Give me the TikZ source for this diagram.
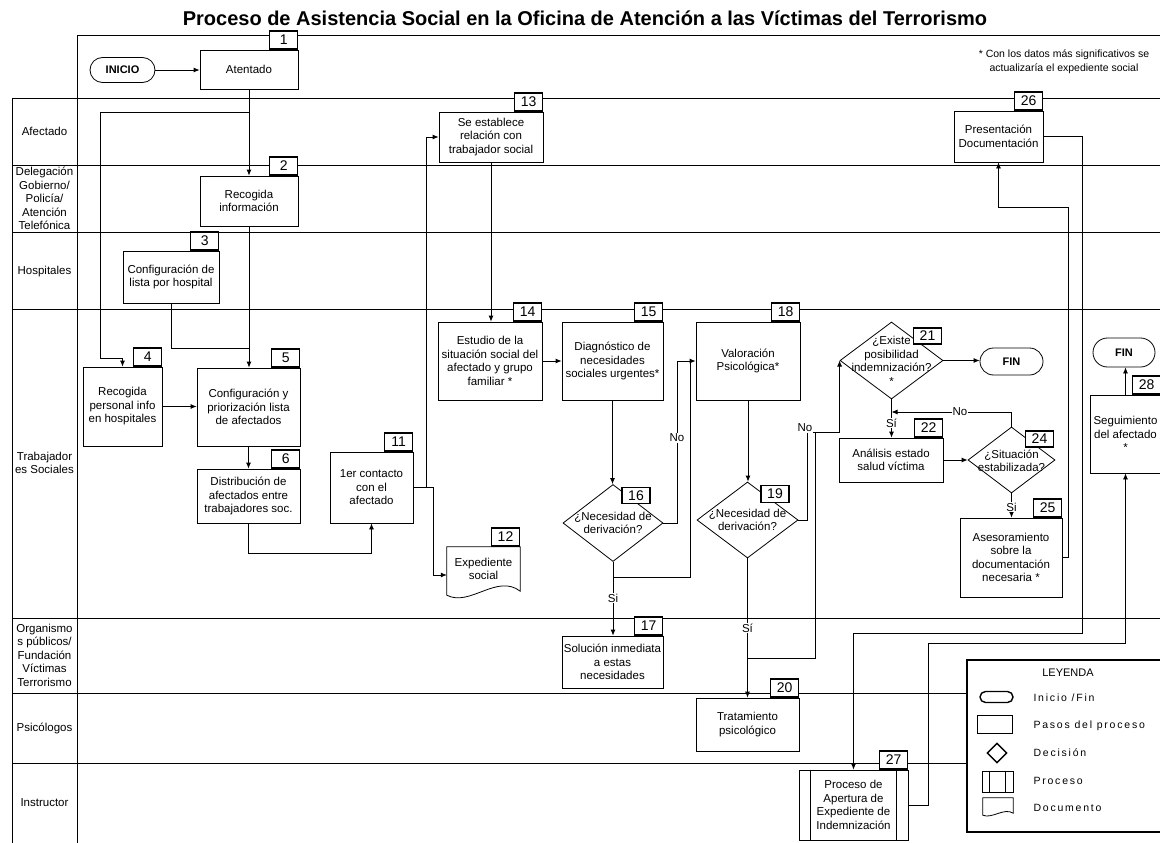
\documentclass[tikz,border=0pt]{standalone}
\usepackage{fontspec}
\setmainfont{Liberation Sans}
\newfontfamily\legfont[LetterSpace=17]{Liberation Sans}
\usetikzlibrary{arrows.meta,shapes.geometric,shapes.misc,calc}
\tikzset{
  txt/.style={font=\fontsize{11.5}{13.5}\selectfont, align=center},
  sz/.style 2 args={minimum width=#1pt, minimum height=#2pt},
  stepbox/.style={txt, draw, fill=white, line width=0.8pt, inner sep=1pt},
  numbox/.style={draw, fill=white, line width=1.4pt, font=\fontsize{14}{14}\selectfont, minimum width=28pt, minimum height=18pt, inner sep=0pt},
  termbox/.style={draw, fill=white, rounded rectangle, line width=0.8pt, font=\bfseries\fontsize{11}{12}\selectfont, inner sep=0pt},
  decbox/.style={draw, fill=white, diamond, line width=0.8pt, inner sep=0pt},
  lbl/.style={txt, fill=white, inner sep=1pt},
  lane/.style={line width=0.8pt},
  conn/.style={line width=0.8pt},
  arr/.style={line width=0.8pt, -{Latex[length=6pt,width=5pt]}},
  legtext/.style={font=\legfont\fontsize{10.5}{12}\selectfont, anchor=west}
}
\begin{document}
\begin{tikzpicture}[x=1pt,y=-1pt]
\useasboundingbox (0,0) rectangle (1160,843);
\fill[white] (0,0) rectangle (1160,843);

% title and note
\node[font=\bfseries\fontsize{20}{22}\selectfont] (title) at (585,18) {Proceso de Asistencia Social en la Oficina de Atención a las Víctimas del Terrorismo};
\node[font=\fontsize{10.5}{14}\selectfont, align=center] (note) at (1064,62) {* Con los datos más significativos se\\actualizaría el expediente social};

% frame and lanes
\draw[lane] (77,35) -- (1160,35);
\draw[lane] (77,35) -- (77,843);
\draw[lane] (12,98) -- (12,843);
\foreach \yy in {98,165,232,309,618,693,763} {\draw[lane] (12,\yy) -- (1160,\yy);}

% lane labels
\node[txt] (l1) at (44.5,131.5) {Afectado};
\node[txt] (l2) at (44.5,198.5) {Delegación\\Gobierno/\\Policía/\\Atención\\Telefónica};
\node[txt] (l3) at (44.5,272) {Hospitales};
\node[txt] (l4) at (44.5,463) {Trabajador\\es Sociales};
\node[txt] (l5) at (44.5,655) {Organismo\\s públicos/\\Fundación\\Víctimas\\Terrorismo};
\node[txt] (l6) at (44.5,728) {Psicólogos};
\node[txt] (l7) at (44.5,803) {Instructor};

% nodes
\node[termbox, sz={65}{25}] (inicio) at (122.5,70) {INICIO};
\node[stepbox, sz={98}{39}] (b1) at (249,69.5) {Atentado};
\node[stepbox, sz={98}{50}] (b2) at (249,201) {Recogida\\información};
\node[stepbox, sz={96}{52}] (b3) at (171,277) {Configuración de\\lista por hospital};
\node[stepbox, sz={79}{79}] (b4) at (122.5,406.5) {Recogida\\personal info\\en hospitales};
\node[stepbox, sz={103}{78}] (b5) at (248.5,407) {Configuración y\\priorización lista\\de afectados};
\node[stepbox, sz={103}{54}] (b6) at (248.5,496) {Distribución de\\afectados entre\\trabajadores soc.};
\node[stepbox, sz={83}{71}] (b11) at (371.5,487.5) {1er contacto\\con el\\afectado};
\node[txt, sz={73}{44}, inner sep=0pt] (b12) at (483.5,569) {};
\draw[fill=white, line width=0.8pt] (b12.north west) -- (b12.north east) -- (b12.south east)
  .. controls ($(b12.south east)+(-23,-18)$) and ($(b12.south west)+(23,16)$) .. ($(b12.south west)+(0,4)$) -- cycle;
\node[txt] (b12t) at (b12) {Expediente\\social};
\node[stepbox, sz={104}{50}] (b13) at (491,137) {Se establece\\relación con\\trabajador social};
\node[stepbox, sz={104}{78}] (b14) at (490,361) {Estudio de la\\situación social del\\afectado y grupo\\familiar *};
\node[stepbox, sz={101}{78}] (b15) at (612.5,361) {Diagnóstico de\\necesidades\\sociales urgentes*};
\node[stepbox, sz={104}{78}] (b18) at (748,361) {Valoración\\Psicológica*};
\node[decbox, sz={100}{77}] (d16) at (613,523) {};
\node[txt] (d16t) at (613,523) {¿Necesidad de\\derivación?};
\node[decbox, sz={101}{76}] (d19) at (747.5,520) {};
\node[txt] (d19t) at (747.5,520) {¿Necesidad de\\derivación?};
\node[stepbox, sz={101}{52}] (b17) at (612.5,662) {Solución inmediata\\a estas\\necesidades};
\node[stepbox, sz={103}{53}] (b20) at (747.5,724.5) {Tratamiento\\psicológico};
\node[decbox, sz={103}{77}] (d21) at (891.5,360.5) {};
\node[txt] (d21t) at (891.5,361) {¿Existe\\posibilidad\\indemnización?\\*};
\node[termbox, sz={63}{27}] (fin1) at (1011.5,361.5) {FIN};
\node[stepbox, sz={104}{44}] (b22) at (891,460) {Análisis estado\\salud víctima};
\node[decbox, sz={87}{66}] (d24) at (1011.5,460) {};
\node[txt] (d24t) at (1011.5,461) {¿Situación\\estabilizada?};
\node[stepbox, sz={102}{79}] (b25) at (1011,557.5) {Asesoramiento\\sobre la\\documentación\\necesaria *};
\node[stepbox, sz={89}{51}] (b26) at (998.5,136.5) {Presentación\\Documentación};
\node[termbox, sz={62}{29}] (fin2) at (1124,352.5) {FIN};
\node[stepbox, sz={71}{78}] (b28) at (1125.5,434) {Seguimiento\\del afectado\\*};
\node[stepbox, sz={109}{70}] (b27) at (853.5,805) {Proceso de\\Apertura de\\Expediente de\\Indemnización};
\draw[conn] ($(b27.north west)+(12,0)$) -- ($(b27.south west)+(12,0)$);
\draw[conn] ($(b27.north east)+(-12,0)$) -- ($(b27.south east)+(-12,0)$);

% junctions
\coordinate (j1) at (249,112);
\coordinate (j2) at (249,348);
\coordinate (j11) at (426,487.5);
\coordinate (j16) at (613,577);
\coordinate (j18) at (690,361);
\coordinate (j19) at (747.5,658);
\coordinate (j19b) at (815,432);
\coordinate (j21) at (891.5,412);

% connectors
\draw[arr] (inicio.east) -- (inicio.east -| b1.west);
\draw[arr] (b1.south) -- (b1.south |- b2.north);
\draw[arr] (j1) -| (100,358) -| (b4.north);
\draw[conn] (b3.south) |- (j2);
\draw[arr] (b2.south) -- (b2.south |- b5.north);
\draw[arr] (b4.east) -- (b4.east -| b5.west);
\draw[arr] (b5.south) -- (b5.south |- b6.north);
\draw[arr] (b6.south) -- ++(0,30) -| (b11.south);
\draw[arr] (b11.east) -- (j11) |- (b13.west);
\draw[arr] (j11) -- (433,487.5) |- ($(b12.west)+(0,6)$);
\draw[arr] (b13.south) -- (b13.south |- b14.north);
\draw[arr] (b14.east) -- (b14.east -| b15.west);
\draw[arr] (b15.south) -- (b15.south |- d16.north);
\draw[arr] (d16.east) -- ++(14,0) |- (b18.west);
\draw[arr] (d16.south) -- (d16.south |- b17.north);
\draw[conn] (j16) -| (j18);
\draw[arr] (b18.south) -- (b18.south |- d19.north);
\draw[arr] (d19.east) -| (807,432) -| (d21.west);
\draw[conn] (j19) -| (j19b);
\draw[arr] (d19.south) -- (d19.south |- b20.north);
\draw[arr] (d21.east) -- (d21.east -| fin1.west);
\draw[arr] (d21.south) -- (d21.south |- b22.north);
\draw[arr] (b22.east) -- (b22.east -| d24.west);
\draw[arr] (d24.north) |- (j21);
\draw[arr] (d24.south) -- (d24.south |- b25.north);
\draw[arr] (b25.east) -| (1068,207) -| (b26.south);
\draw[arr] (b26.east) -| (1082,633) -| (b27.north);
\draw[arr] (b27.east) -| (928,643) -| (b28.south);
\draw[arr] (b28.north) -- (b28.north |- fin2.south);

% branch labels
\node[lbl] (no16) at (677,438) {No};
\node[lbl] (si16) at (613,598) {Si};
\node[lbl] (no19) at (805,428) {No};
\node[lbl] (si19) at (747.5,628) {Sí};
\node[lbl] (si21) at (891.5,423) {Sí};
\node[lbl] (no24) at (960,412) {No};
\node[lbl] (si24) at (1011.5,507) {Si};

% number boxes
\node[numbox, anchor=south east] (n1) at (b1.north east) {1};
\node[numbox, anchor=south east] (n2) at (b2.north east) {2};
\node[numbox, anchor=south east] (n3) at (b3.north east) {3};
\node[numbox, anchor=south east] (n4) at (b4.north east) {4};
\node[numbox, anchor=south east] (n5) at (b5.north east) {5};
\node[numbox, anchor=south east] (n6) at (b6.north east) {6};
\node[numbox, anchor=south east] (n11) at (b11.north east) {11};
\node[numbox, anchor=south east] (n12) at (b12.north east) {12};
\node[numbox, anchor=south east] (n13) at (b13.north east) {13};
\node[numbox, anchor=south east] (n14) at (b14.north east) {14};
\node[numbox, anchor=south east] (n15) at (b15.north east) {15};
\node[numbox, anchor=south east] (n18) at (b18.north east) {18};
\node[numbox, anchor=south east] (n17) at (b17.north east) {17};
\node[numbox, anchor=south east] (n20) at (b20.north east) {20};
\node[numbox, anchor=south east] (n22) at (b22.north east) {22};
\node[numbox, anchor=south east] (n25) at (b25.north east) {25};
\node[numbox, anchor=south east] (n26) at (b26.north east) {26};
\node[numbox, anchor=south east] (n27) at (b27.north east) {27};
\node[numbox, anchor=south east] (n28) at (b28.north east) {28};
\node[numbox, minimum height=16pt] (n16) at (636,495.5) {16};
\node[numbox, minimum height=17pt] (n19) at (775,494) {19};
\node[numbox, minimum height=16pt] (n21) at (927.5,336) {21};
\node[numbox, minimum height=16pt] (n24) at (1039.5,439) {24};

% legend
\node[draw, fill=white, line width=2.2pt, sz={200}{172}, anchor=north west, inner sep=0pt] (leg) at (966,659) {};
\node[font=\fontsize{11}{12}\selectfont] (legt) at (1068,673) {LEYENDA};
\node[termbox, sz={33}{11}, line width=1.4pt] (lg1) at (996.5,697) {};
\node[draw, line width=0.8pt, sz={35}{18}, inner sep=0pt] (lg2) at (994.5,724) {};
\node[decbox, line width=1.4pt, sz={20}{20}] (lg3) at (997,753) {};
\node[draw, line width=0.8pt, sz={31}{21}, inner sep=0pt] (lg4) at (997.5,781.5) {};
\draw[conn] ($(lg4.north west)+(8,0)$) -- ($(lg4.south west)+(8,0)$);
\draw[conn] ($(lg4.north east)+(-8,0)$) -- ($(lg4.south east)+(-8,0)$);
\node[sz={30}{15}, inner sep=0pt] (lg5) at (998,805.5) {};
\draw[line width=0.8pt] (lg5.north west) -- (lg5.north east) -- (lg5.south east)
  .. controls ($(lg5.south east)+(-9,-6)$) and ($(lg5.south west)+(9,6)$) .. ($(lg5.south west)+(0,2)$) -- cycle;
\node[legtext] (lgt1) at (1030,698) {Inicio /Fin};
\node[legtext] (lgt2) at (1030,726) {Pasos del proceso};
\node[legtext] (lgt3) at (1030,753) {Decisión};
\node[legtext] (lgt4) at (1030,781) {Proceso};
\node[legtext] (lgt5) at (1030,808) {Documento};
\end{tikzpicture}
\end{document}
